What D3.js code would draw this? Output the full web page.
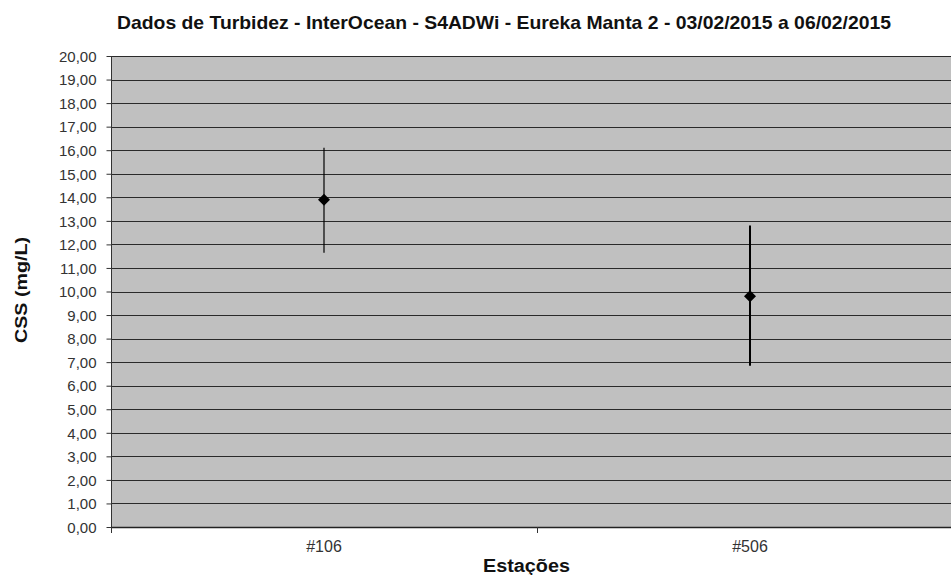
<!DOCTYPE html>
<html>
<head>
<meta charset="utf-8">
<script src="https://cdn.jsdelivr.net/npm/d3@7"></script>
<style>
  body { margin: 0; background: #fff; }
  svg { display: block; font-family: "Liberation Sans", Arial, sans-serif; }
</style>
</head>
<body>
<svg id="chart" width="951" height="575"></svg>
<script>
// Stations and turbidity (CSS mg/L) mean with error range
const stations = ["#106", "#506"];
const means = [13.9, 9.8];
const upper = [16.1, 12.8];
const lower = [11.65, 6.85];
const yTicks = d3.range(0, 21, 1);

const svg = d3.select("#chart");
const margin = { left: 111, top: 56, right: -12, bottom: 48 };
const W = 951, H = 575;
const plotW = W - margin.left - margin.right;
const plotH = H - margin.top - margin.bottom;

const x = d3.scaleBand().domain(stations).range([0, plotW]);
const y = d3.scaleLinear().domain([0, 20]).range([plotH, 0]);

const g = svg.append("g").attr("transform", `translate(${margin.left},${margin.top})`);

// plot background
g.append("rect").attr("x", 0).attr("y", 0).attr("width", plotW).attr("height", plotH)
  .attr("fill", "#c0c0c0");

// horizontal gridlines
g.append("g").selectAll("line").data(yTicks.slice(1)).join("line")
  .attr("x1", 0).attr("x2", plotW)
  .attr("y1", d => Math.round(y(d)) + 0.5).attr("y2", d => Math.round(y(d)) + 0.5)
  .attr("stroke", "#2a2a2a").attr("stroke-width", 1);

// y axis
const yAxis = d3.axisLeft(y).tickValues(yTicks).tickSize(5).tickPadding(10)
  .tickFormat(d => d3.format(".2f")(d).replace(".", ","));
const ya = g.append("g").attr("transform", "translate(0.5,0)").call(yAxis);
ya.select(".domain").attr("stroke", "#333").attr("d", `M0,${plotH}V0`);
ya.selectAll(".tick line").attr("stroke", "#333");
ya.selectAll(".tick text").attr("fill", "#333").attr("font-size", 15)
  .attr("font-family", "Liberation Sans, Arial, sans-serif").attr("dy", "0.35em");

// x axis: ticks at band boundaries, labels at band centers
const xa = g.append("g").attr("transform", `translate(0,${plotH})`);
xa.append("line").attr("x1", 0).attr("x2", plotW).attr("y1", 0.5).attr("y2", 0.5)
  .attr("stroke", "#222").attr("stroke-width", 1.5);
const bounds = [0].concat(stations.map(s => x(s) + x.bandwidth()));
xa.selectAll("line.tk").data(bounds).join("line").attr("class", "tk")
  .attr("x1", d => Math.round(d) + 0.5).attr("x2", d => Math.round(d) + 0.5)
  .attr("y1", 0).attr("y2", 6).attr("stroke", "#333");
xa.selectAll("text").data(stations).join("text")
  .attr("x", d => x(d) + x.bandwidth() / 2).attr("y", 25)
  .attr("text-anchor", "middle").attr("font-size", 16).attr("fill", "#333")
  .text(d => d);

// error bars
const widths = [1.2, 2];
g.selectAll("line.err").data(stations).join("line").attr("class", "err")
  .attr("x1", d => x(d) + x.bandwidth() / 2).attr("x2", d => x(d) + x.bandwidth() / 2)
  .attr("y1", (d, i) => y(upper[i])).attr("y2", (d, i) => y(lower[i]))
  .attr("stroke", "#000").attr("stroke-width", (d, i) => widths[i]);

// mean markers
g.selectAll("path.pt").data(stations).join("path").attr("class", "pt")
  .attr("transform", (d, i) => `translate(${x(d) + x.bandwidth() / 2},${y(means[i])})`)
  .attr("d", "M0,-6L6,0L0,6L-6,0Z").attr("fill", "#000");

// titles
svg.append("text").attr("x", 117).attr("y", 29)
  .attr("font-size", 18.5).attr("font-weight", "bold").attr("fill", "#111")
  .attr("textLength", 774).attr("lengthAdjust", "spacingAndGlyphs")
  .text("Dados de Turbidez - InterOcean - S4ADWi - Eureka Manta 2 - 03/02/2015 a 06/02/2015");
svg.append("text").attr("x", 483).attr("y", 572)
  .attr("font-size", 18).attr("font-weight", "bold").attr("fill", "#111")
  .attr("textLength", 87).attr("lengthAdjust", "spacingAndGlyphs")
  .text("Estações");
svg.append("text").attr("transform", "translate(27,343) rotate(-90)")
  .attr("font-size", 16).attr("font-weight", "bold")
  .attr("textLength", 106).attr("lengthAdjust", "spacingAndGlyphs")
  .attr("fill", "#111").text("CSS (mg/L)");
</script>
</body>
</html>
